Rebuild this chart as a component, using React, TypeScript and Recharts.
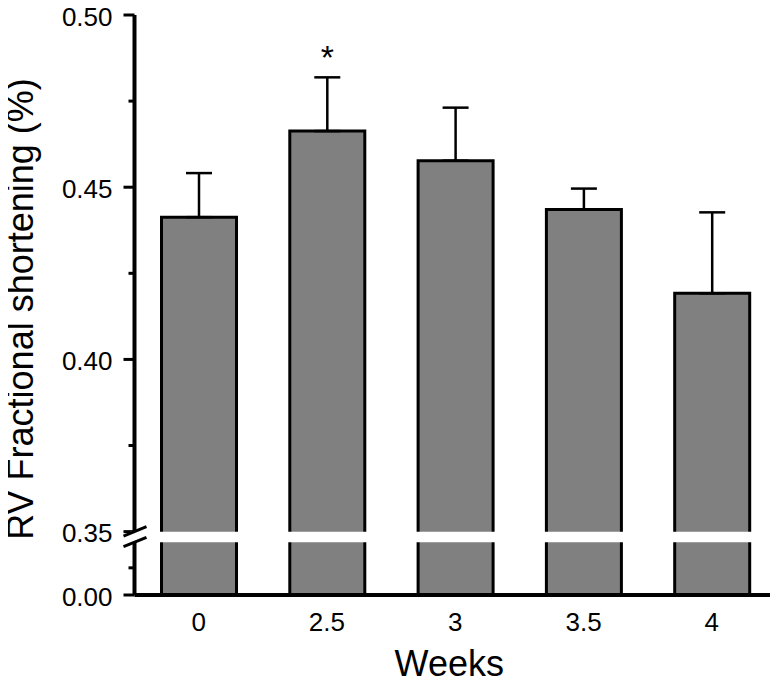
import React from 'react'
import {
  BarChart,
  Bar,
  XAxis,
  YAxis,
  ErrorBar,
  LabelList,
  ReferenceArea,
} from 'recharts'

const weeks = ['0', '2.5', '3', '3.5', '4']
const shortening = [0.4413, 0.4663, 0.4577, 0.4435, 0.4192]
const sem = [0.0128, 0.0156, 0.0154, 0.0061, 0.0235]
const marks = ['', '*', '', '', '']
const majorTicks = [0, 0.35, 0.4, 0.45, 0.5]
const minorTicks = [0.15, 0.375, 0.425, 0.475]

// broken axis: 0..0.35 squeezed into a short stub under the 0.35..0.50 part
const BREAK = 0.35
const LOW_SCALE = 0.0184 / 0.35
const GAP = 0.0031
const toAxis = (v: number) => (v >= BREAK ? v : BREAK - (BREAK - v) * LOW_SCALE)

const font = '"Liberation Sans", Arial, sans-serif'

const data = weeks.map((w, i) => ({
  week: w,
  value: toAxis(shortening[i]),
  err: [0, sem[i]],
  mark: marks[i],
}))

const tickInfo = [
  ...majorTicks.map((v) => ({ at: toAxis(v), label: v.toFixed(2), major: true, brk: v === BREAK })),
  ...minorTicks.map((v) => ({ at: toAxis(v), label: '', major: false, brk: false })),
].sort((a, b) => a.at - b.at)

const YTick = (props: any) => {
  const { x, y, payload } = props
  const info = tickInfo.find((t) => Math.abs(t.at - payload.value) < 1e-6)
  if (!info) return null
  const ax = x + 11
  return (
    <g>
      <line x1={info.major ? x : x + 5} x2={ax} y1={y} y2={y} stroke='#000' strokeWidth={3} />
      {info.brk && (
        <g>
          <rect x={ax - 4} y={y} width={8} height={10.6} fill='#fff' />
          <line x1={ax - 11} y1={y + 4.4} x2={ax + 12} y2={y - 4.9} stroke='#000' strokeWidth={3} />
          <line x1={ax - 11} y1={y + 15.1} x2={ax + 12} y2={y + 5.7} stroke='#000' strokeWidth={3} />
        </g>
      )}
      {info.label && (
        <text x={x - 11} y={y} dy={10.5} textAnchor='end' fontSize={26} fontFamily={font} fill='#000'>
          {info.label}
        </text>
      )}
    </g>
  )
}

const YLabel = ({ viewBox }: any) => {
  const cx = viewBox.x + 25
  const cy = viewBox.y + viewBox.height / 2 + 4
  return (
    <text x={cx} y={cy} transform={`rotate(-90 ${cx} ${cy})`} textAnchor='middle' fontSize={36} fontFamily={font} fill='#000'>
      RV Fractional shortening (%)
    </text>
  )
}

const XLabel = ({ viewBox }: any) => (
  <text x={viewBox.x + viewBox.width / 2 - 6} y={viewBox.y + viewBox.height} textAnchor='middle' fontSize={36} fontFamily={font} fill='#000'>
    Weeks
  </text>
)

export default function App() {
  return (
    <BarChart
      width={770}
      height={680}
      data={data}
      margin={{ top: 7, right: 2, bottom: 12, left: 0 }}
      style={{ fontFamily: font }}
    >
      <Bar dataKey='value' fill='#808080' stroke='#000' strokeWidth={3} barSize={75} isAnimationActive={false}>
        <ErrorBar dataKey='err' width={13} stroke='#000' strokeWidth={2.5} isAnimationActive={false} />
        <LabelList dataKey='mark' position='top' offset={62} fontSize={34} fontFamily={font} fill='#000' />
      </Bar>
      <ReferenceArea y1={BREAK - GAP} y2={BREAK} fill='#fff' fillOpacity={1} stroke='none' ifOverflow='visible' zIndex={450} />
      <XAxis
        dataKey='week'
        height={81}
        tickLine={false}
        tickSize={17}
        tickMargin={1}
        axisLine={{ stroke: '#000', strokeWidth: 4 }}
        tick={{ fontSize: 26, fill: '#000', fontFamily: font }}
        label={{ value: 'Weeks', content: XLabel }}
      />
      <YAxis
        type='number'
        width={126.5}
        domain={[toAxis(0), 0.5]}
        ticks={tickInfo.map((t) => t.at)}
        allowDataOverflow
        interval={0}
        tickLine={false}
        tickSize={11}
        tickMargin={0}
        axisLine={{ stroke: '#000', strokeWidth: 4 }}
        tick={YTick}
        label={{ value: 'RV Fractional shortening (%)', content: YLabel }}
      />
    </BarChart>
  )
}
